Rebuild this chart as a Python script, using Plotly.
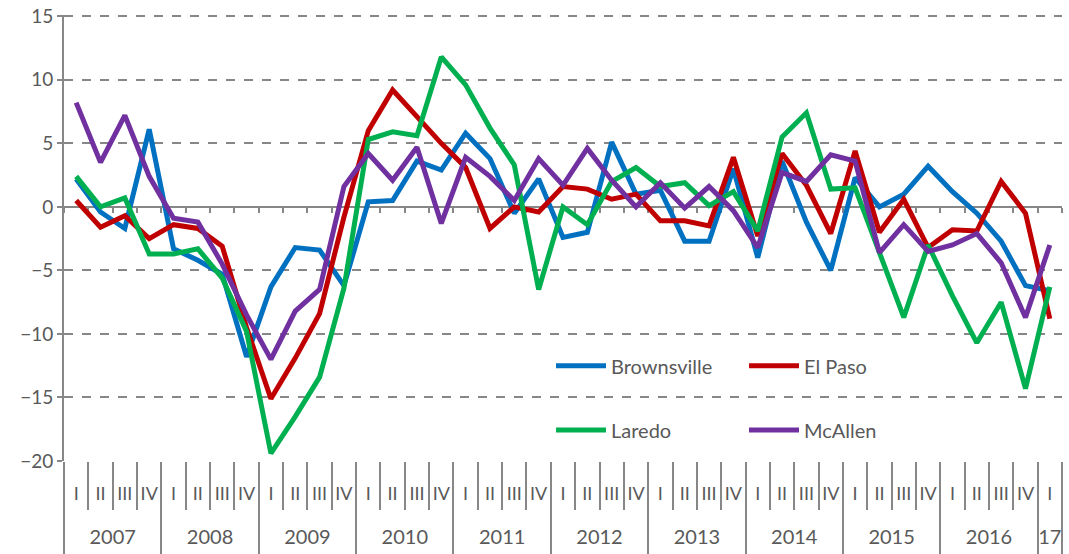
import plotly.graph_objects as go

years = ["2007"] * 4 + ["2008"] * 4 + ["2009"] * 4 + ["2010"] * 4 + ["2011"] * 4 + \
        ["2012"] * 4 + ["2013"] * 4 + ["2014"] * 4 + ["2015"] * 4 + ["2016"] * 4 + ["17"]
quarters = ["I", "II", "III", "IV"] * 10 + ["I"]

brownsville = [2.2, -0.4, -1.7, 6.1, -3.3, -4.2, -5.3, -11.8, -6.3, -3.2, -3.4, -6.2,
               0.4, 0.5, 3.6, 2.9, 5.8, 3.8, -0.5, 2.2, -2.4, -2.0, 5.1, 1.0,
               1.3, -2.7, -2.7, 3.0, -4.0, 3.6, -1.2, -5.0, 2.3, 0.0, 1.0, 3.2,
               1.2, -0.5, -2.7, -6.2, -6.6]
el_paso = [0.5, -1.6, -0.7, -2.5, -1.4, -1.7, -3.1, -9.5, -15.1, -11.9, -8.4, -0.8,
           6.0, 9.2, 7.1, 5.0, 3.1, -1.7, 0.0, -0.4, 1.6, 1.4, 0.6, 1.0,
           -1.1, -1.1, -1.5, 3.9, -2.3, 4.2, 1.7, -2.1, 4.4, -2.0, 0.6, -3.2,
           -1.8, -1.9, 2.0, -0.5, -8.8]
laredo = [2.4, 0.0, 0.7, -3.7, -3.7, -3.3, -5.6, -9.8, -19.4, -16.5, -13.4, -6.4,
          5.3, 5.9, 5.6, 11.8, 9.6, 6.2, 3.3, -6.5, 0.0, -1.4, 2.0, 3.1,
          1.6, 1.9, 0.1, 1.2, -1.9, 5.5, 7.4, 1.4, 1.5, -3.6, -8.7, -3.0,
          -7.0, -10.7, -7.5, -14.3, -6.3]
mcallen = [8.2, 3.5, 7.2, 2.4, -0.9, -1.2, -4.5, -8.5, -12.0, -8.2, -6.5, 1.6,
           4.2, 2.1, 4.7, -1.3, 3.9, 2.4, 0.5, 3.8, 1.7, 4.6, 2.1, 0.0,
           1.9, -0.1, 1.6, -0.3, -3.2, 2.7, 2.0, 4.1, 3.6, -3.6, -1.4, -3.5,
           -3.0, -2.1, -4.4, -8.7, -3.0]

series = [
    ("Brownsville", brownsville, "#0070C0", "legend"),
    ("El Paso", el_paso, "#C00000", "legend"),
    ("Laredo", laredo, "#00B050", "legend2"),
    ("McAllen", mcallen, "#7030A0", "legend2"),
]

FONT = "Lato"
TXT = "#595959"
AX = "#878787"

n = len(years)
keys = [f"{y} {q}" for y, q in zip(years, quarters)]
idx = list(range(n))
all_bounds = [i - 0.5 for i in idx] + [n - 0.5]
year_names = list(dict.fromkeys(years))
year_centers = [sum(i for i in idx if years[i] == yn) / years.count(yn) for yn in year_names]
year_bounds = [years.index(yn) - 0.5 for yn in year_names] + [n - 0.5]
xr = [-0.5, n - 0.5]
Y_MIN, Y_MAX = -20, 15

fig = go.Figure()

# invisible helper traces that carry the extra axes (zero line ticks, year labels, dividers)
for ax in ("x2", "x3", "x4"):
    fig.add_trace(go.Scatter(x=idx, y=brownsville, xaxis=ax, yaxis="y", mode="lines",
                             line=dict(width=0), opacity=0, showlegend=False,
                             hoverinfo="skip"))

for name, vals, color, lg in series:
    fig.add_trace(go.Scatter(
        x=keys, y=vals, name=name, mode="lines",
        line=dict(color=color, width=5), legend=lg,
    ))

helper = dict(overlaying="x", anchor="free", showgrid=False, zeroline=False,
              automargin=False, range=xr, layer="below traces", tickmode="array")
yr = [Y_MIN, Y_MAX + 0.1]

fig.update_layout(
    width=1069, height=554,
    margin=dict(l=64, r=7, t=15, b=93),
    paper_bgcolor="white", plot_bgcolor="white",
    font=dict(family=FONT, size=17, color=TXT),
    showlegend=True,
    xaxis=dict(
        type="category", automargin=False, tickangle=0, range=xr,
        tickmode="array", tickvals=keys, ticktext=quarters,
        showgrid=False, showline=False, zeroline=False,
        ticks="outside", tickson="boundaries", ticklen=48, tickwidth=1.5, tickcolor=AX,
        ticklabelstandoff=20,
        tickfont=dict(family=FONT, size=18, color=TXT),
    ),
    xaxis2=dict(helper, type="linear", position=(0 - yr[0]) / (yr[1] - yr[0]),
                tickvals=all_bounds, showticklabels=False,
                showline=True, linecolor=AX, linewidth=2,
                ticks="outside", ticklen=5, tickwidth=1.5, tickcolor=AX),
    xaxis3=dict(helper, type="linear", position=0,
                tickvals=year_centers, ticktext=year_names, ticks="",
                showline=False, ticklabelstandoff=62, tickangle=0,
                tickfont=dict(family=FONT, size=20, color=TXT)),
    xaxis4=dict(helper, type="linear", position=0,
                tickvals=year_bounds, showticklabels=False, showline=False,
                ticks="outside", ticklen=95, tickwidth=1.5, tickcolor=AX),
    yaxis=dict(
        range=yr, tickmode="linear", dtick=5, tick0=0, automargin=False,
        showgrid=True, gridcolor=AX, griddash="dash", gridwidth=1.5,
        zeroline=False, showline=True, linecolor=AX, linewidth=2,
        ticks="outside", ticklen=5, tickwidth=1.5, tickcolor=AX,
        tickfont=dict(family=FONT, size=19, color=TXT),
        ticklabeloverflow="allow",
        layer="below traces",
    ),
    legend=dict(orientation="h", x=0.488, y=0.2135, xanchor="left", yanchor="middle",
                entrywidth=128, entrywidthmode="pixels", bgcolor="rgba(0,0,0,0)",
                font=dict(family=FONT, size=20, color=TXT), itemwidth=50),
    legend2=dict(orientation="h", x=0.488, y=0.0697, xanchor="left", yanchor="middle",
                 entrywidth=128, entrywidthmode="pixels", bgcolor="rgba(0,0,0,0)",
                 font=dict(family=FONT, size=20, color=TXT), itemwidth=50),
)

fig.write_html("out.html", config={"displayModeBar": False},
               post_script="document.body.style.margin='0';")
